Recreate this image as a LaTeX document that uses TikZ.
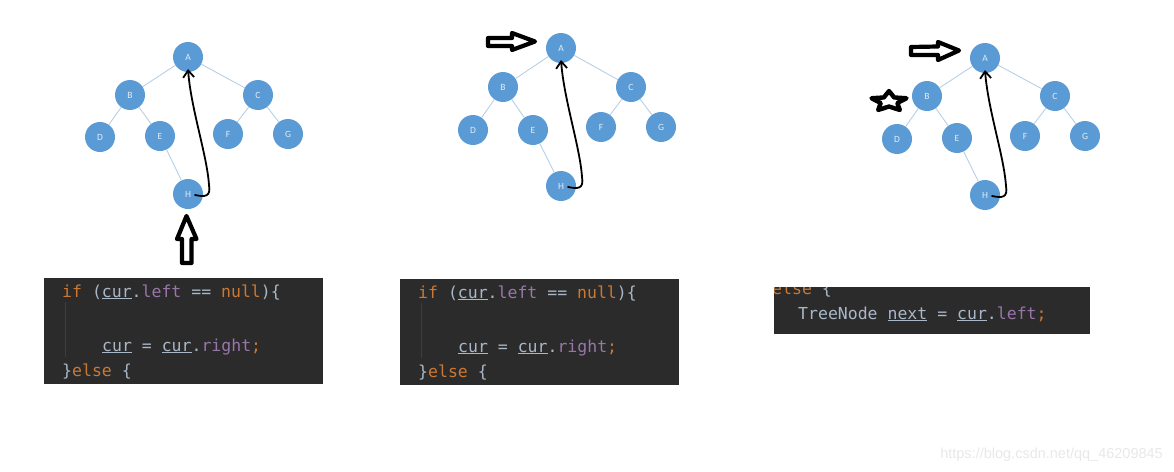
\documentclass[tikz,border=0pt]{standalone}
\usepackage{fontspec}
\usepackage{xcolor}
\usetikzlibrary{arrows.meta, calc}

\newfontfamily\codefont{DejaVu Sans Mono}
\newfontfamily\labelfont{Carlito}
\newfontfamily\markfont{Liberation Sans}

\definecolor{nodeblue}{HTML}{5B9BD5}
\definecolor{edgeblue}{HTML}{B7CFE6}
\definecolor{labelwhite}{HTML}{E2ECF7}
\definecolor{codebg}{HTML}{2B2B2B}
\definecolor{codefg}{HTML}{A9B7C6}
\definecolor{codeorange}{HTML}{CC7832}
\definecolor{codepurple}{HTML}{9876AA}
\definecolor{guidegray}{HTML}{3E3E3E}

\newcommand{\kw}[1]{\textcolor{codeorange}{#1}}
\newcommand{\fld}[1]{\textcolor{codepurple}{#1}}
\newcommand{\uvar}[1]{\underline{#1}}

\begin{document}
\begin{tikzpicture}[x=1pt,y=1pt,yscale=-1,xscale=1,
    treenode/.style={circle, fill=nodeblue, minimum size=30pt, inner sep=0pt, text=labelwhite, font=\labelfont\fontsize{9.5}{10}\selectfont},
    treeedge/.style={draw=edgeblue, line width=0.9pt},
    curl/.style={line width=1.8pt, line cap=round, line join=round, -{Straight Barb[length=7pt,width=11pt]}},
    marker/.style={draw=black, fill=white, line width=4.2pt, line join=round},
    codebox/.style={fill=codebg, draw=none},
    codeline/.style={anchor=base west, inner sep=0pt, text=codefg, font=\codefont\fontsize{16.5}{20}\selectfont},
    guide/.style={draw=guidegray, line width=1pt}]
    \useasboundingbox (0,0) rectangle (1174,471);

    %Tree 1
    \node[treenode] (A1) at (188,57) {A};
    \node[treenode] (B1) at (130,95) {B};
    \node[treenode] (C1) at (258,95) {C};
    \node[treenode] (D1) at (100,137) {D};
    \node[treenode] (E1) at (160,136) {E};
    \node[treenode] (F1) at (228,134) {F};
    \node[treenode] (G1) at (288,134) {G};
    \node[treenode] (H1) at (188,194) {H};
    \draw[treeedge] (A1) -- (B1) (A1) -- (C1) (B1) -- (D1) (B1) -- (E1) (C1) -- (F1) (C1) -- (G1) (E1) -- (H1);

    %Tree 2
    \node[treenode] (A2) at (561,48) {A};
    \node[treenode] (B2) at (503,87) {B};
    \node[treenode] (C2) at (631,87) {C};
    \node[treenode] (D2) at (473,130) {D};
    \node[treenode] (E2) at (533,130) {E};
    \node[treenode] (F2) at (601,127) {F};
    \node[treenode] (G2) at (661,127) {G};
    \node[treenode] (H2) at (561,186) {H};
    \draw[treeedge] (A2) -- (B2) (A2) -- (C2) (B2) -- (D2) (B2) -- (E2) (C2) -- (F2) (C2) -- (G2) (E2) -- (H2);

    %Tree 3
    \node[treenode] (A3) at (985,58) {A};
    \node[treenode] (B3) at (927,96) {B};
    \node[treenode] (C3) at (1055,96) {C};
    \node[treenode] (D3) at (897,139) {D};
    \node[treenode] (E3) at (957,138) {E};
    \node[treenode] (F3) at (1025,136) {F};
    \node[treenode] (G3) at (1085,136) {G};
    \node[treenode] (H3) at (985,195) {H};
    \draw[treeedge] (A3) -- (B3) (A3) -- (C3) (B3) -- (D3) (B3) -- (E3) (C3) -- (F3) (C3) -- (G3) (E3) -- (H3);

    %Curve Lines: H back to A
    \draw[curl] ($(H1)+(7,1)$) .. controls +(10,2) and +(2,12) .. ($(H1)+(21,-9)$) .. controls +(-2,-30) and +(3,40) .. ($(A1)+(0,12)$);
    \draw[curl] ($(H2)+(7,1)$) .. controls +(10,2) and +(2,12) .. ($(H2)+(21,-9)$) .. controls +(-2,-30) and +(3,40) .. ($(A2)+(0,12)$);
    \draw[curl] ($(H3)+(7,1)$) .. controls +(10,2) and +(2,12) .. ($(H3)+(21,-9)$) .. controls +(-2,-30) and +(3,40) .. ($(A3)+(0,12)$);

    %Shape: hollow arrows
    \draw[marker] (186.5,216) -- (196.5,239) -- (191.5,239) -- (191.5,263) -- (182,263) -- (182,239) -- (177,239) -- cycle;
    \draw[marker] (488,38) -- (512,38) -- (512,33) -- (535,41.5) -- (512,50) -- (512,46) -- (488,46) -- cycle;
    \draw[marker] (911,47) -- (938,46.5) -- (938,42) -- (959,50.5) -- (938,60) -- (938,55) -- (911,55) -- cycle;

    %Shape: star
    \begin{scope}[shift={(889,101.5)}, xscale=1.75]
        \draw[marker, line width=4.4pt] (-90:10.5) -- (-54:5) -- (-18:10.5) -- (18:5) -- (54:10.5) -- (90:5) -- (126:10.5) -- (162:5) -- (198:10.5) -- (234:5) -- cycle;
    \end{scope}

    %Code box 1
    \fill[codebox] (44,278) rectangle (323,384);
    \draw[guide] (65,302) -- (65,357);
    \node[codeline] (if1) at (62,297) {\kw{if} (\uvar{cur}.\fld{left} == \kw{null})\{};
    \node[codeline] (set1) at (102,351) {\uvar{cur} = \uvar{cur}.\fld{right}\kw{;}};
    \node[codeline] (else1) at (62,376) {\}\kw{else} \{};

    %Code box 2
    \fill[codebox] (400,279) rectangle (679,385);
    \draw[guide] (421,303) -- (421,358);
    \node[codeline] (if2) at (418,298) {\kw{if} (\uvar{cur}.\fld{left} == \kw{null})\{};
    \node[codeline] (set2) at (458,352) {\uvar{cur} = \uvar{cur}.\fld{right}\kw{;}};
    \node[codeline] (else2) at (418,377) {\}\kw{else} \{};

    %Code box 3
    \fill[codebox] (774,287) rectangle (1090,334);
    \begin{scope}
        \clip (774,287) rectangle (1090,334);
        \node[codeline] (else3) at (772,294) {\kw{else} \{};
    \end{scope}
    \node[codeline] (next3) at (798,319) {TreeNode \uvar{next} = \uvar{cur}.\fld{left}\kw{;}};

    % Text Node
    \node[anchor=base east, inner sep=0pt, text=black!9, font=\markfont\fontsize{14.5}{16}\selectfont] (mark) at (1163,458) {https://blog.csdn.net/qq\_46209845};

\end{tikzpicture}
\end{document}
